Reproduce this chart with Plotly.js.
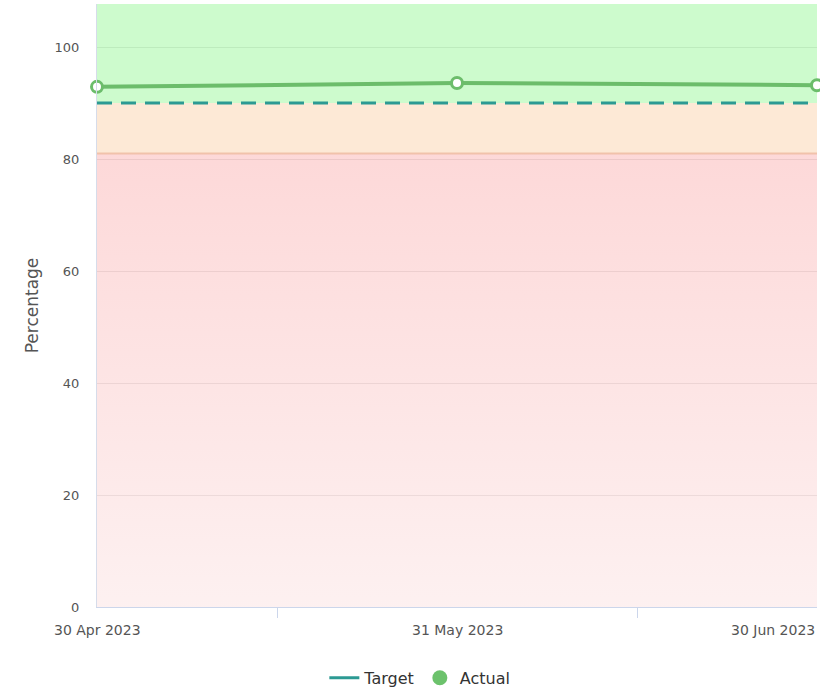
<!DOCTYPE html>
<html>
<head>
<meta charset="utf-8">
<script src="https://cdn.plot.ly/plotly-3.0.1.min.js"></script>
<style>
  html, body { margin: 0; padding: 0; background: #ffffff; }
  #chart { width: 820px; height: 691px; }
</style>
</head>
<body>
<div id="chart"></div>
<script>
// Monthly performance against target, with RAG bands behind the series
const months = ['30 Apr 2023', '31 May 2023', '30 Jun 2023'];
const actualValues = [92.9, 93.6, 93.2];
const targetValues = [90, 90, 90];

// Band thresholds (percentage)
const redFloor = 0;
const amberFloor = 81;
const greenFloor = 90;
const axisMax = 107.7;

const yTicks = [0, 20, 40, 60, 80, 100];

const first = months[0];
const last = months[months.length - 1];

const font = 'DejaVu Sans, Verdana, sans-serif';

const traces = [
  // Red band, fading out towards zero
  {
    x: [first, last, last, first, first],
    y: [redFloor, redFloor, amberFloor, amberFloor, redFloor],
    mode: 'lines', fill: 'toself', line: { width: 0 },
    fillgradient: {
      type: 'vertical', start: redFloor, stop: amberFloor,
      colorscale: [[0, 'rgba(251,226,226,0.5)'], [1, 'rgba(251,178,178,0.5)']]
    },
    hoverinfo: 'skip', showlegend: false
  },
  // Amber band
  {
    x: [first, last, last, first, first],
    y: [amberFloor, amberFloor, greenFloor, greenFloor, amberFloor],
    mode: 'lines', fill: 'toself', line: { width: 0 },
    fillcolor: 'rgba(251,211,173,0.5)',
    hoverinfo: 'skip', showlegend: false
  },
  // Green band
  {
    x: [first, last, last, first, first],
    y: [greenFloor, greenFloor, axisMax, axisMax, greenFloor],
    mode: 'lines', fill: 'toself', line: { width: 0 },
    fillcolor: 'rgba(155,248,155,0.5)',
    hoverinfo: 'skip', showlegend: false
  },
  // Edge between red and amber bands
  {
    x: [first, last], y: [amberFloor, amberFloor],
    mode: 'lines', line: { color: 'rgba(240,190,165,0.9)', width: 2 },
    hoverinfo: 'skip', showlegend: false
  },
  // Target
  {
    x: months, y: targetValues, name: 'Target',
    mode: 'lines', line: { color: '#2c9a93', width: 3, dash: '15px,9px' },
    showlegend: false, cliponaxis: false
  },
  // Actual
  {
    x: months, y: actualValues, name: 'Actual',
    mode: 'lines+markers',
    line: { color: '#6cbd6b', width: 4 },
    marker: { size: 11, color: '#ffffff', line: { color: '#6cbd6b', width: 3 } },
    showlegend: false, cliponaxis: false
  },
  // Legend entries
  {
    x: [null], y: [null], name: 'Target', mode: 'lines',
    line: { color: '#2c9a93', width: 3 }
  },
  {
    x: [null], y: [null], name: 'Actual', mode: 'markers',
    marker: { size: 15, color: '#6cc26c' }
  }
];

// Date labels under the axis: the last one is kept inside the chart edge
const dateLabels = months.map((m, i) => ({
  x: m, xref: 'x',
  y: 0, yref: 'paper',
  yanchor: 'top', yshift: -13,
  xanchor: i === months.length - 1 ? 'right' : 'center',
  text: m, showarrow: false,
  font: { family: font, size: 14, color: '#555555' }
}));

const layout = {
  width: 820, height: 691,
  margin: { l: 97, r: 3, t: 4, b: 84 },
  paper_bgcolor: '#ffffff',
  plot_bgcolor: '#ffffff',
  font: { family: font, color: '#666666' },
  showlegend: true,
  legend: {
    orientation: 'h',
    xref: 'container', yref: 'container',
    x: 0.512, xanchor: 'center',
    y: 0.019, yanchor: 'middle',
    font: { family: font, size: 16, color: '#333333' },
    itemwidth: 30,
    tracegroupgap: 0
  },
  annotations: dateLabels,
  xaxis: {
    type: 'category',
    categoryorder: 'array', categoryarray: months,
    range: [0, 2],
    tickson: 'boundaries',
    ticks: 'outside', ticklen: 10, tickcolor: '#ccd6eb', tickwidth: 1,
    showticklabels: false,
    showgrid: false, zeroline: false,
    showline: true, linecolor: '#ccd6eb', linewidth: 1,
    fixedrange: true
  },
  yaxis: {
    range: [0, axisMax],
    tickvals: yTicks,
    ticks: '',
    ticklabelstandoff: 14,
    showgrid: true, gridcolor: '#dedede', gridwidth: 1,
    zeroline: false,
    showline: true, linecolor: '#d6dcea', linewidth: 1,
    tickfont: { family: font, size: 13, color: '#555555' },
    title: { text: 'Percentage', font: { family: font, size: 17, color: '#555555' }, standoff: 11 },
    fixedrange: true
  }
};

Plotly.newPlot('chart', traces, layout, { displayModeBar: false, staticPlot: true });
</script>
</body>
</html>
